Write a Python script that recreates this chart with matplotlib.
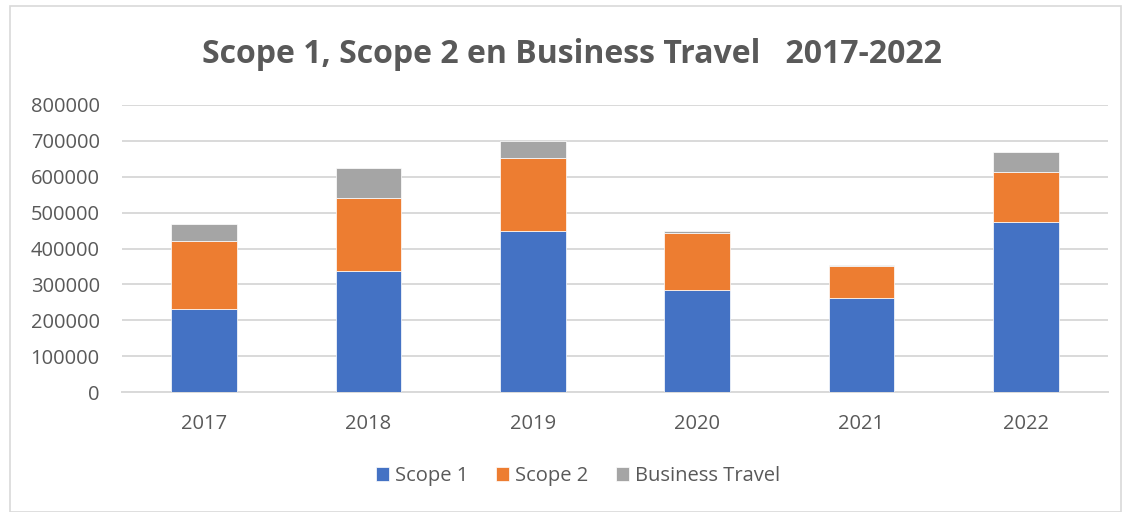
import numpy as np
import matplotlib.pyplot as plt
from matplotlib.patches import Rectangle

# data
years = ["2017", "2018", "2019", "2020", "2021", "2022"]
scope1 = [231000, 337000, 448000, 284000, 263000, 473000]
scope2 = [190000, 205000, 204000, 160000, 89000, 141000]
business_travel = [48000, 82000, 49000, 5000, 1000, 54000]

BLUE = "#4472C4"
ORANGE = "#ED7D31"
GREY = "#A5A5A5"
TEXT = "#595959"

plt.rcParams["font.family"] = ["Open Sans", "DejaVu Sans"]

W, H = 1125, 512
fig = plt.figure(figsize=(W / 100, H / 100), dpi=100)
ax = fig.add_axes([122 / W, 1 - 392 / H, (1108 - 122) / W, (392 - 105) / H])

x = np.arange(len(years))
s1 = np.array(scope1)
s2 = np.array(scope2)
bt = np.array(business_travel)

ax.bar(x, s1, width=0.4, color=BLUE, edgecolor="white", linewidth=0.5, label="Scope 1", zorder=3)
ax.bar(x, s2, width=0.4, bottom=s1, color=ORANGE, edgecolor="white", linewidth=0.5, label="Scope 2", zorder=3)
ax.bar(x, bt, width=0.4, bottom=s1 + s2, color=GREY, edgecolor="white", linewidth=0.5,
       label="Business Travel", zorder=3)

ax.set_xlim(-0.5, len(years) - 0.5)
ax.set_ylim(0, 800000)
ax.set_yticks(np.arange(0, 800001, 100000))
ax.set_yticklabels([str(v) for v in range(0, 800001, 100000)])
ax.set_xticks(x)
ax.set_xticklabels(years)
ax.grid(axis="y", color="#D9D9D9", linewidth=1.4, zorder=0)
ax.tick_params(axis="both", length=0, labelsize=14.5, labelcolor=TEXT)
ax.tick_params(axis="y", pad=16)
ax.tick_params(axis="x", pad=16)
for side in ["top", "right", "left"]:
    ax.spines[side].set_visible(False)
ax.spines["bottom"].set_color("#D9D9D9")
ax.spines["bottom"].set_linewidth(1.4)

fig.text(572 / W, 1 - 63 / H, "Scope 1, Scope 2 en Business Travel   2017-2022",
         ha="center", va="baseline", fontsize=23, fontweight="bold", color=TEXT)

leg = fig.legend(loc="center", bbox_to_anchor=(578 / W, 1 - 476 / H), ncol=3, frameon=False,
                 fontsize=14.5, handlelength=0.65, handleheight=0.65, handletextpad=0.3,
                 columnspacing=1.35)
for t in leg.get_texts():
    t.set_color(TEXT)

# light chart border like the Excel chart area
fig.patches.append(Rectangle((10 / W, 0), (1121 - 10) / W, 1 - 6 / H, transform=fig.transFigure,
                             fill=False, edgecolor="#D9D9D9", linewidth=1.2))

fig.savefig("out.png", dpi=100)
